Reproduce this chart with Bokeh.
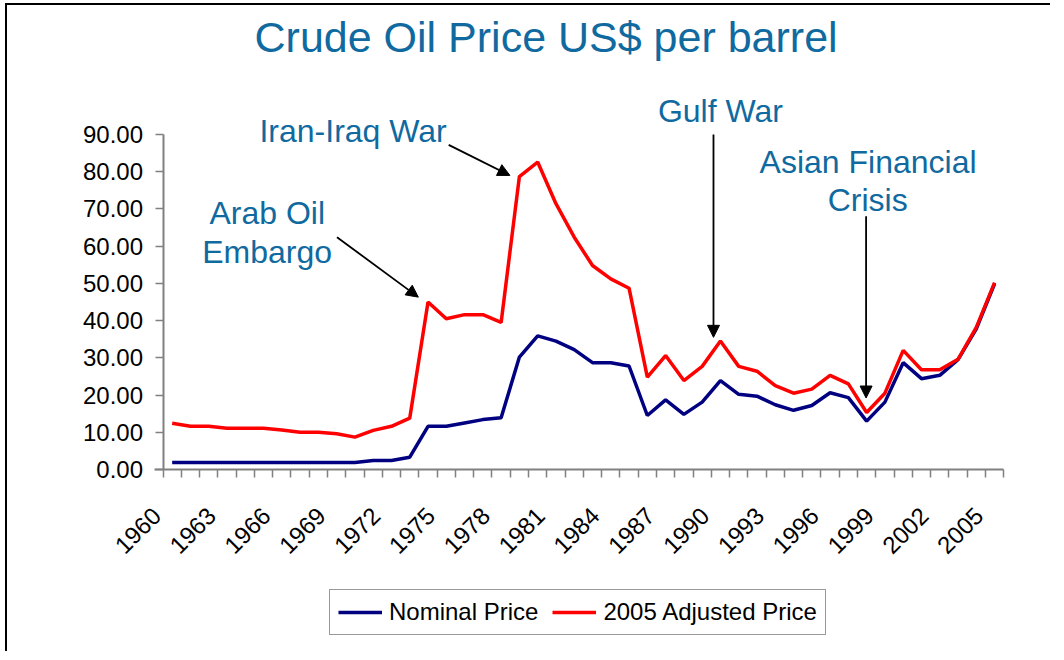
import math
from bokeh.plotting import figure
from bokeh.models import (Range1d, FixedTicker, NumeralTickFormatter, Label,
                          Arrow, NormalHead, InlineStyleSheet)
from bokeh.embed import file_html
from bokeh.resources import INLINE

# ---------------- data ----------------
years = list(range(1960, 2006))
nominal_price = [1.9, 1.9, 1.9, 1.9, 1.9, 1.9, 1.9, 1.9, 1.9, 1.9, 1.9,
                 2.4, 2.4, 3.3, 11.6, 11.6, 12.5, 13.4, 13.9, 30.2, 35.9,
                 34.5, 32.2, 28.7, 28.7, 27.8, 14.5, 18.7, 14.8, 18.1, 23.9,
                 20.2, 19.7, 17.4, 15.9, 17.2, 20.6, 19.3, 13.0, 18.1, 28.7,
                 24.4, 25.3, 29.5, 37.8, 49.9]
adjusted_price = [12.4, 11.6, 11.6, 11.1, 11.1, 11.1, 10.6, 10.0, 10.0, 9.6, 8.7,
                  10.5, 11.6, 13.8, 45.0, 40.5, 41.6, 41.6, 39.5, 78.7, 82.6,
                  71.4, 62.4, 54.8, 51.2, 48.7, 24.8, 30.6, 23.9, 27.7, 34.5,
                  27.7, 26.4, 22.5, 20.5, 21.6, 25.3, 23.0, 15.3, 20.5, 32.0,
                  26.8, 26.8, 29.6, 38.2, 50.2]
series_names = ["Nominal Price", "2005 Adjusted Price"]
tick_years = [1960, 1963, 1966, 1969, 1972, 1975, 1978, 1981, 1984, 1987,
              1990, 1993, 1996, 1999, 2002, 2005]
tick_labels = ["1960", "1963", "1966", "1969", "1972", "1975", "1978", "1981",
               "1984", "1987", "1990", "1993", "1996", "1999", "2002", "2005"]
y_ticks = [0, 10, 20, 30, 40, 50, 60, 70, 80, 90]
title_text = "Crude Oil Price US$ per barrel"
annotation_lines = ["Arab Oil", "Embargo", "Iran-Iraq War", "Gulf War",
                    "Asian Financial", "Crisis"]

# ---------------- styles / positions ----------------
FONT = "Liberation Sans"
TEXT_BLUE = "#106AA0"
AXIS_GRAY = "#808080"

W, H = 1048, 648
FIRST_EDGE, LAST_EDGE = years[0] - 0.5, years[-1] + 0.5
p = figure(width=W, height=H, output_backend="svg", toolbar_location=None,
           x_range=Range1d(1950.99, 2008.17), y_range=Range1d(-49.43, 123.3),
           min_border_left=0, min_border_right=0,
           min_border_top=5, min_border_bottom=0)
p.stylesheets = [InlineStyleSheet(
    css=":host { border-top: 2px solid #000; border-left: 2px solid #000; "
        "margin-top: 3px; margin-left: 5px; "
        "width: 1045px !important; overflow: hidden; }")]
p.outline_line_color = None
p.xgrid.visible = False
p.ygrid.visible = False
p.background_fill_color = "white"
p.border_fill_color = "white"

r_nom = p.line(years, nominal_price, line_color="#000080", line_width=3.5,
               legend_label=series_names[0])
r_adj = p.line(years, adjusted_price, line_color="#FF0000", line_width=3.5,
               legend_label=series_names[1])

# x axis, drawn at price 0; rotated labels sit a little left of their category
LABEL_SHIFT = 0.85
boundaries = [y - 0.5 for y in years] + [LAST_EDGE]
label_pos = [y - LABEL_SHIFT for y in tick_years]
xa = p.xaxis[0]
xa.fixed_location = 0
xa.bounds = (FIRST_EDGE - 0.45, LAST_EDGE)
xa.ticker = FixedTicker(ticks=label_pos, minor_ticks=boundaries)
xa.major_label_overrides = dict(zip(label_pos, tick_labels))
xa.major_label_orientation = math.pi / 4
xa.major_tick_line_color = None
xa.minor_tick_line_color = AXIS_GRAY
xa.minor_tick_line_width = 1.5
xa.minor_tick_out = 8
xa.minor_tick_in = 0
xa.axis_line_color = AXIS_GRAY
xa.axis_line_width = 2
xa.major_label_standoff = 34
xa.major_label_text_font = FONT
xa.major_label_text_font_size = "24px"
xa.major_label_text_color = "black"

# y axis, drawn at the left edge of the first category
ya = p.yaxis[0]
ya.fixed_location = FIRST_EDGE
ya.bounds = (0, 90)
ya.ticker = FixedTicker(ticks=y_ticks)
ya.formatter = NumeralTickFormatter(format="0.00")
ya.major_tick_out = 8
ya.major_tick_in = 0
ya.major_tick_line_color = AXIS_GRAY
ya.major_tick_line_width = 1.5
ya.minor_tick_line_color = None
ya.axis_line_color = AXIS_GRAY
ya.axis_line_width = 2
ya.major_label_standoff = 12
ya.major_label_text_font = FONT
ya.major_label_text_font_size = "24px"
ya.major_label_text_color = "black"

# title
p.add_layout(Label(x=1980.46, y=116.2, text=title_text, text_align="center",
                   text_baseline="alphabetic", text_font=FONT,
                   text_font_size="43px", text_color=TEXT_BLUE))

# annotations (text lines, data units)
ann_x = [1965.2, 1965.2, 1969.9, 1990.0, 1998.08, 1998.06]
ann_y = [68.9, 58.5, 91.0, 96.4, 82.7, 72.5]
for t, ax, ay in zip(annotation_lines, ann_x, ann_y):
    p.add_layout(Label(x=ax, y=ay, text=t, text_align="center",
                       text_baseline="alphabetic", text_font=FONT,
                       text_font_size="32px", text_color=TEXT_BLUE))

arrows = [((1969.02, 62.4), (1973.47, 46.3)),
          ((1975.13, 87.2), (1978.48, 79.0)),
          ((1989.62, 90.0), (1989.62, 35.5)),
          ((1997.97, 68.0), (1997.97, 19.2))]
for (x0, y0), (x1, y1) in arrows:
    p.add_layout(Arrow(x_start=x0, y_start=y0, x_end=x1, y_end=y1,
                       line_color="black", line_width=1.8,
                       end=NormalHead(size=12, fill_color="black",
                                      line_color="black", line_width=1)))

# legend
lg = p.legend[0]
lg.orientation = "horizontal"
lg.location = (322, 18)
lg.label_text_font = FONT
lg.label_text_font_size = "24px"
lg.label_text_color = "black"
lg.glyph_width = 44
lg.glyph_height = 20
lg.label_standoff = 7
lg.spacing = 14
lg.padding = 8
lg.margin = 0
lg.border_line_color = "#333333"
lg.border_line_width = 1
lg.background_fill_color = "white"
lg.background_fill_alpha = 1.0

open("out.html", "w").write(file_html(p, INLINE))
